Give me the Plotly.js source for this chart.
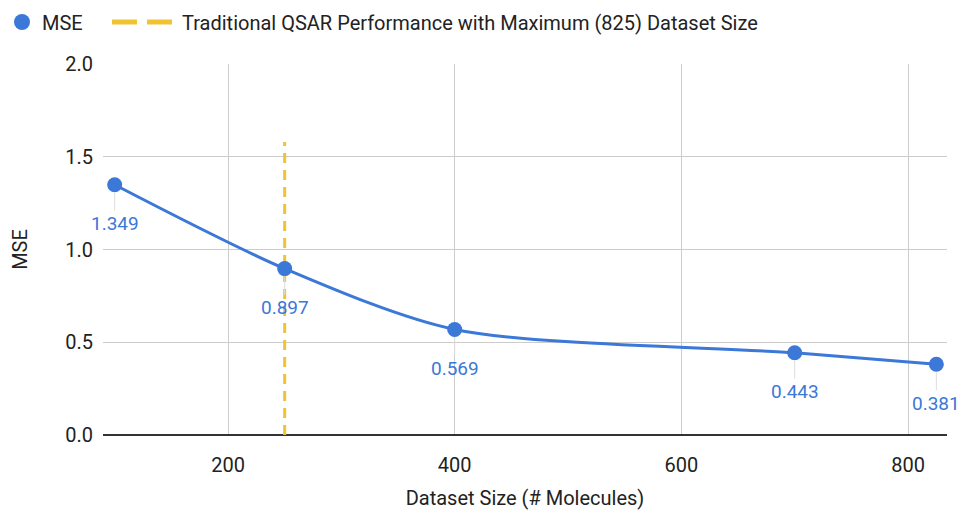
<!DOCTYPE html>
<html>
<head>
<meta charset="utf-8">
<script src="https://cdn.plot.ly/plotly-3.0.1.min.js"></script>
<style>html,body{margin:0;padding:0;background:#fff;}#chart{width:960px;height:512px;}</style>
</head>
<body>
<div id="chart"></div>
<script>
const datasetSizes = [100, 250, 400, 700, 825];
const mseValues = [1.349, 0.897, 0.569, 0.443, 0.381];
const mseLabels = ["1.349", "0.897", "0.569", "0.443", "0.381"];
const qsarX = [250, 250];
const qsarY = [0, 1.58];
const xTicks = [200, 400, 600, 800];
const yTicks = [0, 0.5, 1.0, 1.5, 2.0];
const yTickLabels = ["0.0", "0.5", "1.0", "1.5", "2.0"];

const blue = "#3b78d8";
const yellow = "#f1c232";
const fontFam = "Roboto, Arial, sans-serif";

const traces = [
  {
    x: qsarX, y: qsarY, mode: "lines", name: "Traditional QSAR Performance with Maximum (825) Dataset Size",
    line: {color: yellow, width: 3, dash: "10px,7px"}, hoverinfo: "skip", showlegend: false
  },
  {
    x: datasetSizes, y: mseValues, mode: "lines+markers", name: "MSE",
    line: {color: blue, width: 3, shape: "spline", smoothing: 0.8},
    marker: {color: blue, size: 15}, showlegend: false
  },
  {
    x: [null], y: [null], mode: "markers", name: "MSE",
    marker: {color: blue, size: 20}, legend: "legend"
  },
  {
    x: [null], y: [null], mode: "lines", name: "Traditional QSAR Performance with Maximum (825) Dataset Size",
    line: {color: yellow, width: 5, dash: "25px,10px"}, legend: "legend2"
  }
];

const annotations = datasetSizes.map((x, i) => ({
  x: x, y: mseValues[i], xref: "x", yref: "y",
  text: mseLabels[i], showarrow: true, ax: 0, ay: 39,
  arrowhead: 0, arrowwidth: 1, arrowcolor: "#dddddd", standoff: 8,
  font: {family: fontFam, size: 19, color: blue},
  xanchor: "center", yanchor: "middle"
}));

const layout = {
  width: 960, height: 512,
  margin: {l: 103, r: 13, t: 64, b: 77},
  paper_bgcolor: "#ffffff", plot_bgcolor: "#ffffff",
  font: {family: fontFam, size: 20, color: "#222222"},
  showlegend: true,
  legend: {orientation: "h", xref: "container", yref: "container", x: 2 / 960, xanchor: "left",
           y: 0.957, yanchor: "middle", itemwidth: 30,
           font: {size: 20, color: "#222222"}, tracegroupgap: 0},
  legend2: {orientation: "h", xref: "container", yref: "container", x: 107 / 960, xanchor: "left",
           y: 0.957, yanchor: "middle", itemwidth: 65,
           font: {size: 20, color: "#222222"}, tracegroupgap: 0},
  xaxis: {
    range: [89.7, 834.4], tickvals: xTicks, ticktext: xTicks.map(String),
    showgrid: true, gridcolor: "#cccccc", gridwidth: 1, zeroline: false,
    showline: false, ticks: "", ticklen: 0, ticklabelstandoff: 16, automargin: false,
    tickfont: {size: 20, color: "#222222"},
    title: {text: "Dataset Size (# Molecules)", font: {size: 20, color: "#222222"}, standoff: 14}
  },
  yaxis: {
    range: [0, 2.0], tickvals: yTicks, ticktext: yTickLabels,
    showgrid: true, gridcolor: "#cccccc", gridwidth: 1,
    zeroline: true, zerolinecolor: "#333333", zerolinewidth: 1.5,
    showline: false, ticks: "", ticklen: 0, ticklabelstandoff: 9, automargin: false,
    tickfont: {size: 20, color: "#222222"},
    title: {text: "MSE", font: {size: 20, color: "#222222"}, standoff: 32}
  },
  annotations: annotations
};

Plotly.newPlot("chart", traces, layout, {displayModeBar: false, staticPlot: true});
</script>
</body>
</html>
